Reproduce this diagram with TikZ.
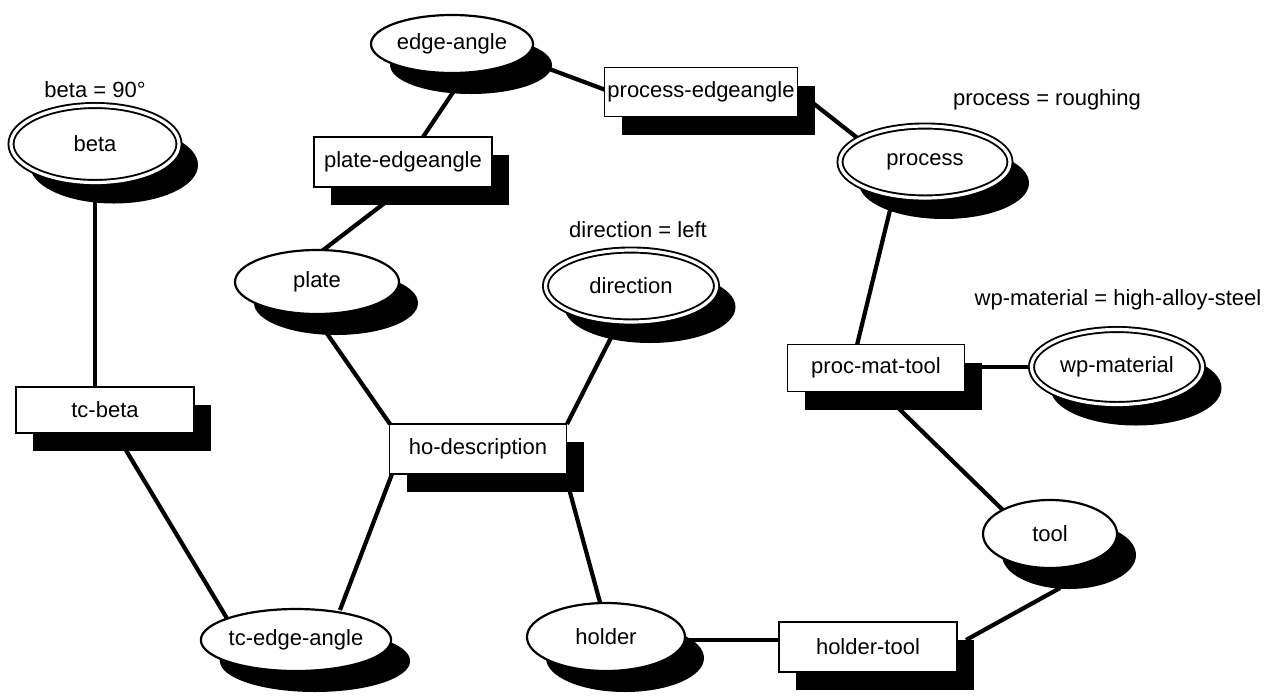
\documentclass[tikz,border=0pt]{standalone}
\usepackage{fontspec}
\setmainfont{Liberation Sans}
\usetikzlibrary{shapes.geometric,shadows,backgrounds,calc}
\begin{document}
\begin{tikzpicture}[x=1pt,y=-1pt,
  every node/.style={font=\fontsize{22}{26}\selectfont},
  shad/.style={drop shadow={shadow xshift=17pt,shadow yshift=-18pt,opacity=1,fill=black}},
  eshad/.style={drop shadow={shadow xshift=19pt,shadow yshift=-21pt,opacity=1,fill=black}},
  ent/.style={ellipse,draw,line width=2.2pt,fill=white,inner sep=0pt,eshad},
  dent/.style={ellipse,draw,double=white,double distance=3.2pt,line width=1.9pt,fill=white,inner sep=0pt,eshad},
  rel/.style={rectangle,draw,line width=1.8pt,fill=white,inner sep=0pt,minimum width=178pt,minimum height=50pt,shad},
  link/.style={line width=4.2pt},
  thinlink/.style={line width=3.2pt},
  lbl/.style={inner sep=0pt}
]
\useasboundingbox (0,0) rectangle (1272,697);

% double-bordered entities
\node[dent,minimum width=168pt,minimum height=77pt] (beta) at (95,144) {beta};
\node[dent,minimum width=170pt,minimum height=72pt] (process) at (925,162) {process};
\node[dent,minimum width=171pt,minimum height=72pt] (direction) at (631,286) {direction};
\node[dent,minimum width=171pt,minimum height=75pt] (wpm) at (1117,367) {wp-material};

% plain entities
\node[ent,minimum width=162pt,minimum height=58pt] (edgeangle) at (452,44) {edge-angle};
\node[ent,minimum width=164pt,minimum height=64pt] (plate) at (317,282) {plate};
\node[ent,minimum width=160pt,minimum height=62pt] (tcea) at (296,640) {tc-edge-angle};
\node[ent,minimum width=134pt,minimum height=68pt] (tool) at (1050,534) {tool};
\node[ent,minimum width=158pt,minimum height=68pt] (holder) at (606,637) {holder};

% relations
\node[rel,minimum height=46pt] (tcbeta) at (105,410) {tc-beta};
\node[rel] (plateea) at (403,162) {plate-edgeangle};
\node[rel,minimum width=193pt,minimum height=49pt] (procea) at (701,92) {process-edgeangle};
\node[rel,minimum width=177pt] (hod) at (478,449) {ho-description};
\node[rel,minimum width=177pt,minimum height=47pt] (pmt) at (876,368) {proc-mat-tool};
\node[rel] (holdertool) at (868,647) {holder-tool};

% value labels
\node[lbl] (betal) at (95,90) {beta = 90°};
\node[lbl] (procl) at (1047,100) {process = roughing};
\node[lbl] (dirl) at (638,230) {direction = left};
\node[lbl] (wpl) at (1118,300) {wp-material = high-alloy-steel};

\begin{pgfonlayer}{background}
\draw[thinlink] ($(beta)+(0,38)$) -- ($(tcbeta)+(-10,0)$);
\draw[link] ($(tcbeta)+(10,22)$) -- ($(tcea)+(-68,-20)$);
\draw[link] ($(hod)+(-86,25)$) -- ($(tcea)+(44,-30)$);
\draw[link] ($(plate)+(-3,33)$) -- ($(hod)+(-88,-25)$);
\draw[link] ($(direction)+(-11,34)$) -- ($(hod)+(89,-25)$);
\draw[link] ($(hod)+(87,25)$) -- ($(holder)+(-5,-31)$);
\draw[thinlink] ($(holder)+(80,3)$) -- ($(holdertool)+(-89,-7)$);
\draw[link] ($(holdertool)+(98,-7)$) -- ($(tool)+(10,54)$);
\draw[link] ($(pmt)+(14,32)$) -- ($(tool)+(-42,-19)$);
\draw[thinlink] ($(pmt)+(89,-1)$) -- ($(wpm)+(-89,0)$);
\draw[link] ($(pmt)+(-19,-23)$) -- ($(process)+(-33,40)$);
\draw[link] ($(procea)+(89,-7)$) -- ($(process)+(-65,-22)$);
\draw[link] ($(edgeangle)+(68,14)$) -- ($(procea)+(-90,0)$);
\draw[link] ($(edgeangle)+(16,26)$) -- ($(plateea)+(20,-25)$);
\draw[link] ($(plateea)+(-8,33)$) -- ($(plate)+(1,-28)$);
\end{pgfonlayer}
\end{tikzpicture}
\end{document}
